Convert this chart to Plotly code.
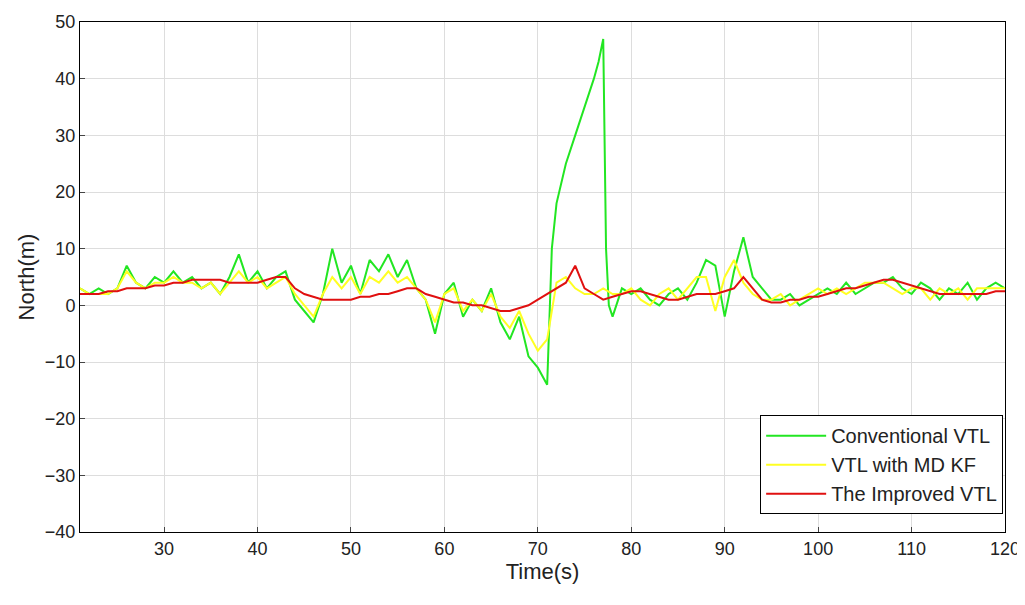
import plotly.graph_objects as go

t_green = [21,22,23,24,25,26,27,28,29,30,31,32,33,34,35,36,37,38,39,40,41,42,43,44,45,46,47,48,49,50,51,52,53,54,55,56,57,58,59,60,61,62,63,64,65,66,67,68,69,70,71,71.5,72,73,74,75,76,76.5,77,77.3,77.6,78,79,80,81,82,83,84,85,86,87,88,89,90,91,92,93,94,95,96,97,98,99,100,101,102,103,104,105,106,107,108,109,110,111,112,113,114,115,116,117,118,119,120]
green = [3,2,3,2,3,7,4,3,5,4,6,4,5,3,4,2,5,9,4,6,3,5,6,1,-1,-3,2,10,4,7,2,8,6,9,5,8,3,1,-5,2,4,-2,1,-1,3,-3,-6,-2,-9,-11,-14,10,18,25,30,35,40,43,47,10,0,-2,3,2,3,1,0,2,3,1,4,8,7,-2,6,12,5,3,1,1,2,0,1,2,3,2,4,2,3,4,4,5,3,2,4,3,1,3,2,4,1,3,4,3]

t_yellow = list(range(21, 121))
yellow = [3,2,2,2,3,6,4,3,4,4,5,4,4,3,4,2,4,6,4,5,3,4,5,2,0,-2,2,5,3,5,2,5,4,6,4,5,3,1,-3,2,3,-1,1,-1,2,-2,-4,-1,-5,-8,-6,4,5,3,2,2,3,2,2,3,1,0,2,3,1,3,5,5,-1,5,8,4,2,1,1,2,0,1,2,3,2,3,2,3,4,4,4,3,2,3,3,1,3,2,3,1,3,3,3,3]

t_red = list(range(21, 121))
red = [2,2,2,2.5,2.5,3,3,3,3.5,3.5,4,4,4.5,4.5,4.5,4.5,4,4,4,4,4.5,5,5,3,2,1.5,1,1,1,1,1.5,1.5,2,2,2.5,3,3,2,1.5,1,0.5,0.5,0,0,-0.5,-1,-1,-0.5,0,1,2,3,4,7,3,2,1,1.5,2,2.5,2.5,2,1.5,1,1,1.5,2,2,2,2.5,3,5,3,1,0.5,0.5,1,1,1.5,1.5,2,2.5,3,3,3.5,4,4.5,4.5,4,3.5,3,2.5,2,2,2,2,2,2,2.5,2.5]

fig = go.Figure()
fig.add_trace(go.Scatter(x=t_green, y=green, mode="lines", name="Conventional VTL", line=dict(color="#22e622", width=2)))
fig.add_trace(go.Scatter(x=t_yellow, y=yellow, mode="lines", name="VTL with MD KF", line=dict(color="#ffff22", width=2)))
fig.add_trace(go.Scatter(x=t_red, y=red, mode="lines", name="The Improved VTL", line=dict(color="#e01010", width=2)))

fig.update_layout(
    width=1025, height=605, margin=dict(l=72, r=28, t=14, b=81, autoexpand=False),
    paper_bgcolor="white", plot_bgcolor="white",
    font=dict(family="Liberation Sans, Arial", size=18, color="#222"),
    legend=dict(x=0.998, y=0.035, xanchor="right", yanchor="bottom", bgcolor="white",
                bordercolor="black", borderwidth=1, font=dict(size=20), itemwidth=60),
)
fig.update_xaxes(range=[21, 120], tickvals=list(range(30, 121, 10)), showgrid=True, gridcolor="#dddddd",
                 showline=True, linecolor="black", mirror=True, ticks="inside", ticklen=5, automargin=False,
                 title=dict(text="Time(s)", standoff=4), zeroline=False)
fig.update_yaxes(range=[-40, 50], dtick=10, showgrid=True, gridcolor="#dddddd",
                 showline=True, linecolor="black", mirror=True, ticks="inside", ticklen=5, automargin=False,
                 title=dict(text="North(m)", standoff=4), zeroline=False)
fig.write_html("out.html")
